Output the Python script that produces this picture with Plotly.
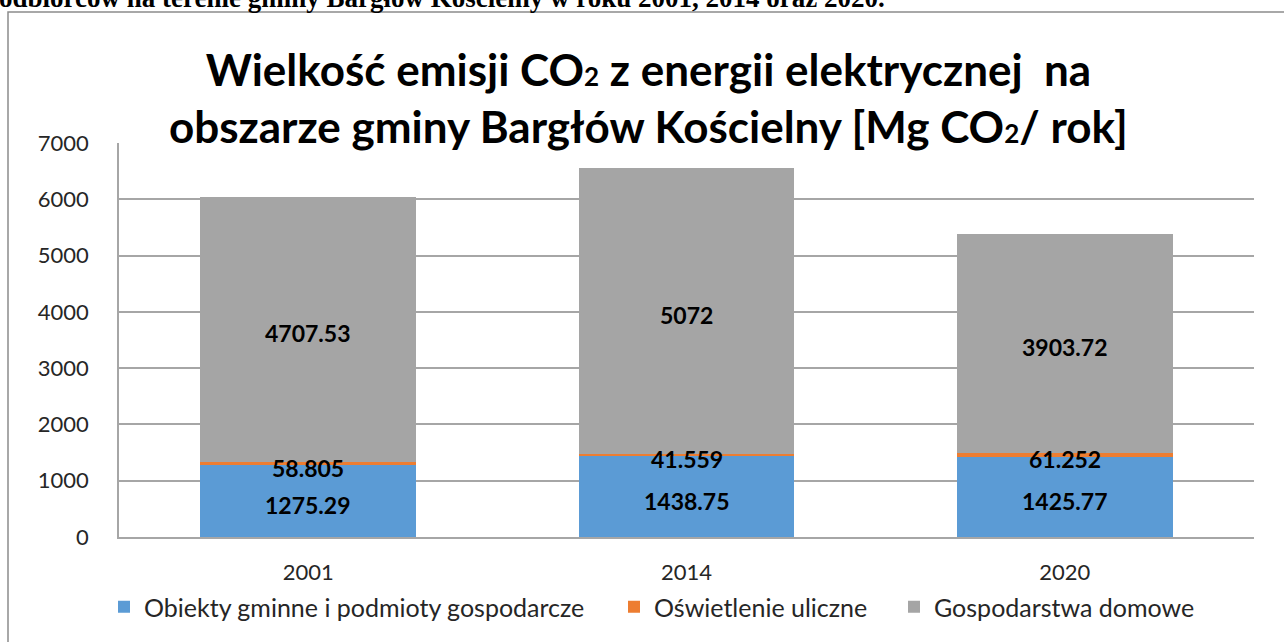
import numpy as np
import plotly.graph_objects as go

# ── Dane ─────────────────────────────────────────────────────────────────────

LATA = ["2001", "2014", "2020"]

OBIEKTY     = [1275.29, 1438.75, 1425.77]   # Obiekty gminne i podmioty gospodarcze
OSWIETLENIE = [58.805, 41.559, 61.252]      # Oświetlenie uliczne
DOMOWE      = [4707.53, 5072, 3903.72]      # Gospodarstwa domowe

SERIE = [
    ("Obiekty gminne i podmioty gospodarcze", OBIEKTY,     "#5B9BD5"),
    ("Oświetlenie uliczne",                   OSWIETLENIE, "#ED7D31"),
    ("Gospodarstwa domowe",                   DOMOWE,      "#A5A5A5"),
]

Y_TICKS = [0, 1000, 2000, 3000, 4000, 5000, 6000, 7000]

SUB2 = "<span style='font-size:26px'>2</span>"
TYTUL = (f"Wielkość emisji CO{SUB2} z energii elektrycznej\u00a0 na<br>"
         f"obszarze gminy Bargłów Kościelny [Mg CO{SUB2}/ rok]")
NAGLOWEK = "odbiorców na terenie gminy Bargłów Kościelny w roku 2001, 2014 oraz 2020."

FONT = "Lato"
W, H = 1284, 642
M_L, M_R, M_T, M_B = 119, 30, 143, 105
LEGENDA_X = [104, 614, 894]   # lewa krawędź każdej pozycji legendy (px)

# ── Wykres ───────────────────────────────────────────────────────────────────

pw = W - M_L - M_R
ph = H - M_T - M_B

def px_x(x):
    return (x - M_L) / pw

def px_y(y):
    return (H - M_B - y) / ph

fig = go.Figure()

legendy = ["legend", "legend2", "legend3"]
for (nazwa, wartosci, kolor), lg in zip(SERIE, legendy):
    fig.add_trace(go.Bar(
        x=LATA, y=wartosci, name=nazwa, legend=lg,
        marker=dict(color=kolor, line=dict(width=0)),
        hovertemplate="%{x}: %{y}<extra>" + nazwa + "</extra>",
    ))

# etykiety danych (środek każdego segmentu); x = indeks kategorii
baza = np.zeros(len(LATA))
for nazwa, wartosci, kolor in SERIE:
    v = np.array(wartosci, dtype=float)
    for i, (srodek, w) in enumerate(zip(baza + v / 2, wartosci)):
        fig.add_annotation(x=i, y=srodek, text=f"{w:g}", showarrow=False,
                           yshift=-4,
                           font=dict(family=FONT, size=23, color="#000000", weight="bold"))
    baza = baza + v

# ramka wykresu
fig.add_shape(type="rect", xref="paper", yref="paper",
              x0=px_x(8), x1=px_x(W + 20), y0=px_y(H + 20), y1=px_y(12),
              line=dict(color="#8C8C8C", width=1.5), layer="below")

# ucięty wiersz tekstu nad wykresem
fig.add_annotation(text=NAGLOWEK, xref="paper", yref="paper",
                   x=px_x(-3), y=px_y(-2), xanchor="left", yanchor="middle",
                   showarrow=False,
                   font=dict(family="Liberation Serif", size=27, color="#000000", weight="bold"))

legenda_styl = dict(orientation="h", xanchor="left", y=px_y(607), yanchor="middle",
                    font=dict(family=FONT, size=25, color="#262626"),
                    itemwidth=30, bgcolor="rgba(0,0,0,0)")

fig.update_layout(
    width=W, height=H,
    barmode="stack", bargap=0.43,
    title=dict(text=TYTUL, x=0.505, xanchor="center", xref="container",
               y=1 - 86 / H, yanchor="middle", yref="container",
               font=dict(family=FONT, size=44, color="#000000", weight="bold")),
    xaxis=dict(
        type="category", categoryorder="array", categoryarray=LATA,
        showline=True, linecolor="#A6A6A6", linewidth=1.5,
        showgrid=False, ticks="", ticklabelstandoff=15,
        tickfont=dict(family=FONT, size=22, color="#262626"),
    ),
    yaxis=dict(
        range=[0, 7000], tickvals=Y_TICKS, showline=True, linecolor="#A6A6A6",
        linewidth=1.5, gridcolor="#A6A6A6", gridwidth=1.5, zeroline=False,
        ticks="", ticklabelstandoff=24,
        tickfont=dict(family=FONT, size=22, color="#262626"),
    ),
    legend=dict(x=px_x(LEGENDA_X[0]), **legenda_styl),
    legend2=dict(x=px_x(LEGENDA_X[1]), **legenda_styl),
    legend3=dict(x=px_x(LEGENDA_X[2]), **legenda_styl),
    margin=dict(l=M_L, r=M_R, t=M_T, b=M_B),
    plot_bgcolor="#FFFFFF", paper_bgcolor="#FFFFFF",
    showlegend=True,
)

# strona bez domyślnego marginesu body
fig.write_html("out.html", config={"displayModeBar": False},
               post_script="document.body.style.margin='0';document.body.style.overflow='hidden';")
